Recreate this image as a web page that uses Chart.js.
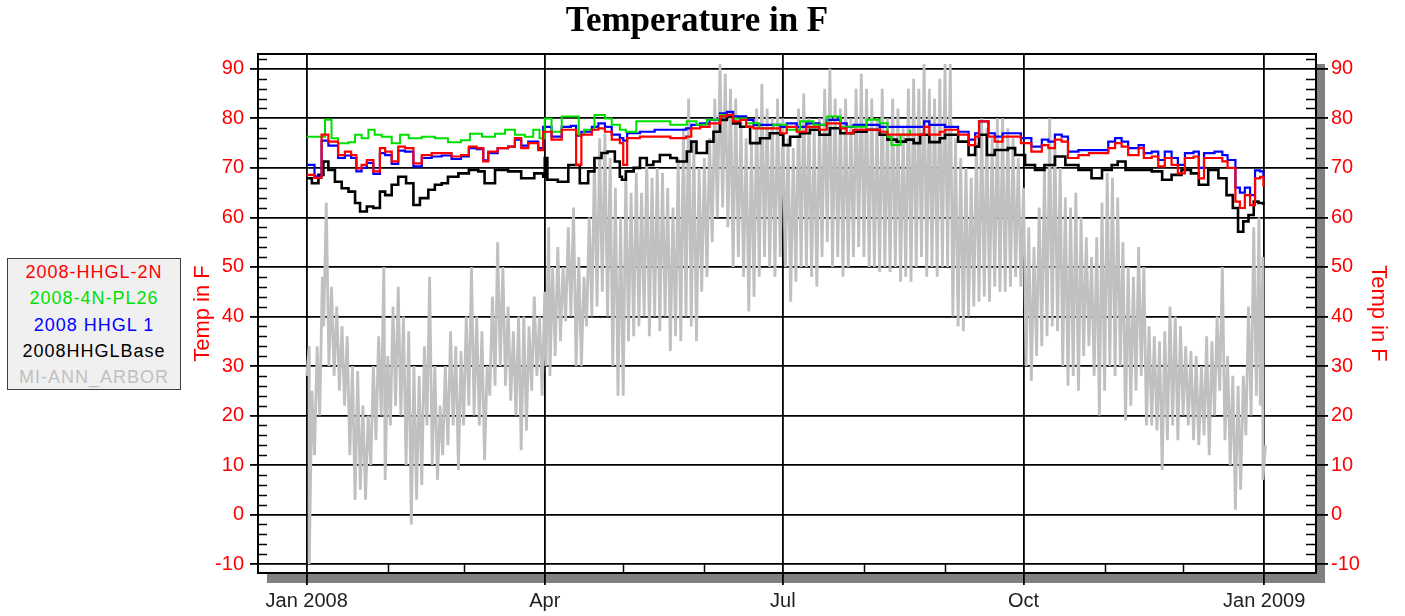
<!DOCTYPE html>
<html>
<head>
<meta charset="utf-8">
<script src="https://cdn.jsdelivr.net/npm/chart.js@4.4.1/dist/chart.umd.min.js"></script>
<style>
  html, body { margin: 0; padding: 0; background: #fff; }
  #wrap { position: relative; width: 1405px; height: 616px; }
  #title {
    position: absolute; left: 0; width: 1394px; top: 0px; text-align: center;
    font: bold 35px "Liberation Serif", "Times New Roman", serif; color: #000;
  }
  #legend {
    position: absolute; left: 7px; top: 258px; width: 172px; height: 130px;
    background: #f0f0f0; border: 1px solid #404040;
    font: 18px "Liberation Sans", Arial, sans-serif; letter-spacing: 1px;
    text-align: center;
  }
  #legend div { height: 26.3px; line-height: 26.3px; }
</style>
</head>
<body>
<div id="wrap">
  <canvas id="chart" width="1405" height="616"></canvas>
  <div id="title">Temperature in F</div>
  <div id="legend"></div>
</div>
<script>
// days counted from Jan 1 2008
const xTickDays = [0, 91, 182, 274, 366];
const xTickLabels = ['Jan 2008', 'Apr', 'Jul', 'Oct', 'Jan 2009'];
const monthDays = [31, 60, 121, 152, 213, 244, 305, 335];
const yTicks = [-10, 0, 10, 20, 30, 40, 50, 60, 70, 80, 90];

const seriesNames = ['2008-HHGL-2N', '2008-4N-PL26', '2008 HHGL 1', '2008HHGLBase', 'MI-ANN_ARBOR'];
const seriesColors = ['#ff0000', '#00e000', '#0000ff', '#000000', '#c0c0c0'];

const redDays = [0, 3, 5.7, 8.3, 12, 14.6, 17, 19, 21, 23, 25.5, 28, 30, 32.5, 35, 37.6, 40.8, 44, 47.8, 51.6,
    55.4, 59, 62, 65, 67.5, 69.4, 73, 77, 79.6, 82, 84.7, 88.5, 90.4, 93.6, 97.5, 101, 103, 105, 109, 111.5,
    114, 116.6, 119.7, 121, 122.5, 127.4, 133, 139, 145, 147, 150.4, 154, 158, 160.6, 163, 165.7, 168, 170.8, 176, 181,
    183.5, 187.3, 191, 196, 198.8, 204, 206.4, 209, 214, 219, 222, 228, 232, 236, 238, 242, 244, 249, 253, 255.5,
    257, 260.6, 263, 266, 269.5, 273, 277, 281, 283.5, 286, 288.6, 291, 295, 299, 302.6, 306.4, 309, 311.5, 314, 318,
    320, 323, 325.5, 328, 330.6, 333, 335.7, 339, 341, 343, 347, 350, 352, 355, 356.7, 358.6, 360.6, 362.5, 364.4, 365.7];
const redVals = [68.6, 68.0, 76.7, 75.3, 72.6, 73.3, 72.6, 69.9, 70.6, 71.6, 69.3, 74, 73.3, 71.3, 74.3, 74, 70.9, 72.6, 73, 73,
    72.3, 72.6, 74.3, 74, 71.3, 73.3, 74, 74.3, 76, 74, 75, 73.6, 77.3, 75.7, 77.7, 77.7, 70.6, 76.7, 77.7, 78,
    77.3, 75.7, 75, 70.6, 76, 76.3, 76.3, 76, 76.3, 78, 78.3, 79, 80.4, 80.7, 79.4, 79.7, 78.3, 78, 78, 77,
    78.3, 77.3, 78.3, 77.7, 79, 78, 77, 77.7, 77.7, 77.3, 76.7, 76.7, 76.7, 78.3, 76.7, 77.3, 77.7, 76.7, 74.6, 76.3,
    79.4, 76.3, 75.3, 76.3, 76.3, 75, 73.3, 74.6, 74, 75.7, 75.3, 72, 72.6, 73, 73, 74, 75, 74.3, 72.6, 74,
    72, 72.3, 70.3, 72, 70.6, 68.9, 72, 72.3, 67.9, 72, 72, 71.3, 70, 63.2, 61.9, 64.5, 62.5, 67.9, 68.2, 66.2];

const blueVals = [70.6, 68.3, 75.5, 74.5, 72, 72.5, 72, 69.3, 70, 71, 68.8, 73, 72.6, 70.8, 73.5, 73.3, 70.3, 72, 72.3, 72.5,
    71.8, 72.3, 74, 73.8, 71.5, 73, 74, 74.3, 75.7, 74.5, 75.3, 74, 78.3, 76.3, 78.3, 78.5, 76.5, 77.3, 78.3, 79,
    78.3, 76.7, 76, 75.5, 77, 77.3, 77.7, 77.7, 78, 78.7, 79, 79.7, 81, 81.3, 80.4, 80.4, 79.7, 78.7, 78.7, 78.3,
    79, 78.3, 79, 78.7, 79.7, 79, 78.3, 78.7, 78.7, 78.3, 78.3, 78.3, 78.3, 79.4, 78.7, 78.7, 78.3, 77.3, 75.7, 77,
    79.4, 77, 76.3, 77, 77, 76, 74.3, 75.7, 75.3, 76.7, 76.3, 73.3, 73.6, 73.6, 73.6, 75.3, 76, 75.3, 74, 74.6,
    73, 73.3, 71.6, 73.3, 72, 70.6, 73, 73.3, 70, 73, 73.3, 72.6, 71.6, 66, 65, 66, 64.5, 69.5, 69.3, 68];

const greenDays = [0, 3, 7, 9.5, 12, 16, 18.5, 21, 23.6, 26, 28.7, 32.5, 35.7, 39, 44, 49, 54, 59, 62.4, 67,
    72, 75.8, 79.6, 83.4, 86.6, 89, 91, 93.6, 97.5, 100, 104, 106, 110, 114, 116.6, 119.7, 122, 126, 132.5, 139,
    145.3, 149, 153, 158, 163, 168, 173, 178.4, 183.5, 188.6, 193.7, 199, 204, 209, 214, 219, 222, 223.5, 227, 230.6];
const greenVals = [76.3, 76.3, 79.7, 76, 75, 75.2, 76.7, 76, 77.7, 76.7, 76.3, 75, 76.7, 76, 76.3, 76, 75.2, 75.6, 76.9, 76.3,
    76.9, 77.7, 76.7, 76.3, 77.7, 76, 80, 77.3, 80.4, 80.4, 76.7, 77.7, 80.7, 80, 78.7, 77.7, 77.3, 79.4, 79.4, 78.7,
    79.4, 78.7, 79.7, 80.7, 80, 79, 78, 78.7, 77.7, 79.4, 78.7, 80.4, 78.3, 78.3, 79.7, 79, 76.3, 74.6, 76.7, 77.7];

const blackDays = [0, 2, 4.5, 6.4, 8.3, 10.8, 13.4, 16, 18.5, 20.4, 23, 25.5, 28, 30, 32.5, 35, 38, 40.8, 43.3, 46.5,
    49, 51.6, 54, 58, 62, 65.6, 68, 72, 77, 82, 87, 90.4, 91, 92, 96, 100, 104.4, 107.6, 110, 112.7,
    115, 117.8, 119.7, 120.5, 122, 125, 127.4, 130, 132.5, 135, 139, 141.5, 145.3, 147, 149, 153, 155.5, 158, 160.6, 163,
    165.7, 169.5, 173.3, 177, 181, 182.2, 184.8, 188.6, 192.4, 196, 200, 204, 209, 214, 219, 222, 225.5, 229, 232, 234.5,
    238, 242, 244, 249, 253, 255.5, 257, 260, 263, 268, 270.8, 274.6, 278.4, 282, 286, 290, 295, 300, 304, 307.7,
    310, 313, 318, 323, 327, 330.6, 334.4, 338, 341, 344.6, 348.5, 351.6, 354, 356, 358, 360, 362, 363.8, 365.7];
const blackVals = [67.9, 66.9, 68.6, 71.3, 69.6, 67.2, 65.9, 65.2, 62.9, 61.2, 62.2, 61.9, 65.2, 64.5, 66.6, 68.2, 66.9, 62.5, 63.9, 65.6,
    66.6, 66.9, 68.2, 68.9, 69.6, 69.3, 66.9, 69.6, 69.3, 67.9, 68.9, 68.2, 72, 67.6, 67.2, 70.6, 66.9, 69.3, 72, 73,
    73.3, 71.3, 68.2, 67.6, 69.3, 70, 72, 70.6, 71.3, 72.6, 72, 71.3, 73.3, 75.3, 73, 75.3, 77.3, 79.7, 80.4, 79,
    78.3, 75, 76, 77, 76.7, 74.6, 76.3, 77, 77.7, 76.7, 78, 77, 77.3, 77.7, 76.7, 75.7, 75.3, 75.7, 75, 76.7,
    75.2, 76, 76.7, 75.3, 72.6, 74.3, 76.7, 72.6, 73.6, 74, 72.6, 70.6, 69.6, 70.6, 72.3, 70.6, 69.6, 67.9, 69.6, 70.6,
    71.3, 69.6, 69.6, 69.3, 67.6, 68.6, 69.6, 68.9, 66.6, 69.6, 67.9, 64.5, 61.9, 57.1, 59.2, 60.5, 63.2, 62.9, 62.5];

// Ann Arbor air temperature: daily low / high spread
const grayDays = [0, 1, 3, 5, 6.5, 8.5, 10.5, 12.5, 14.5, 16.5, 18.5, 20.5, 22.5, 24.5, 26.5, 28.5, 30, 32, 34, 36,
    38, 40, 42, 44, 46, 48, 50, 52, 54, 56, 58, 60, 62, 64, 66, 68, 70, 72, 74, 76,
    78, 80, 82, 84, 86, 88, 90, 91.5, 93, 95, 97, 99, 101, 103, 105, 107, 109, 111, 113, 115,
    117, 119, 121, 123, 125, 127, 129, 131, 133, 135, 137, 139, 141, 143, 145, 147, 149, 151, 153, 155,
    157, 159, 161, 163, 165, 167, 169, 171, 173, 175, 177, 179, 181, 183, 185, 187, 189, 191, 193, 195,
    197, 199, 201, 203, 205, 207, 209, 211, 213, 215, 217, 219, 221, 223, 225, 227, 229, 231, 233, 235,
    237, 239, 241, 243, 245, 247, 249, 251, 253, 255, 257, 259, 261, 263, 265, 267, 269, 271, 273, 275,
    277, 279, 281, 283, 285, 287, 289, 291, 293, 295, 297, 299, 301, 303, 305, 307, 309, 311, 313, 315,
    317, 319, 321, 323, 325, 327, 329, 331, 333, 335, 337, 339, 341, 343, 345, 347, 349, 351, 353, 355,
    357, 359, 361, 363, 364.5, 365.5];
const grayLow = [28, -10, 12, 20, 38, 30, 28, 25, 22, 12, 3, 5, 3, 10, 15, 20, 7, 18, 22, 20,
    10, -2, 3, 6, 18, 10, 7, 12, 14, 18, 9, 18, 22, 20, 18, 11, 24, 26, 30, 26,
    23, 20, 13, 17, 25, 28, 24, 30, 28, 32, 35, 39, 40, 30, 30, 38, 40, 42, 45, 40,
    30, 24, 24, 35, 36, 38, 40, 36, 40, 37, 40, 33, 36, 35, 40, 38, 35, 45, 48, 55,
    60, 62, 58, 50, 52, 48, 41, 44, 48, 52, 50, 48, 52, 50, 43, 47, 50, 50, 48, 46,
    52, 55, 50, 52, 48, 50, 52, 54, 52, 50, 50, 49, 50, 49, 50, 47, 48, 47, 50, 52,
    48, 50, 48, 50, 50, 40, 38, 37, 40, 42, 43, 44, 43, 46, 45, 45, 46, 48, 46, 30,
    27, 32, 34, 36, 38, 37, 30, 26, 28, 25, 32, 34, 28, 20, 25, 30, 28, 30, 19, 22,
    25, 28, 18, 18, 17, 9, 15, 18, 15, 20, 18, 15, 14, 16, 12, 20, 25, 15, 10, 1,
    5, 16, 20, 24, 22, 7];
const grayHigh = [34, 25, 34, 48, 63, 46, 42, 38, 36, 30, 29, 22, 20, 30, 36, 50, 32, 42, 46, 40,
    37, 30, 28, 34, 48, 30, 22, 30, 37, 34, 33, 40, 50, 40, 37, 30, 44, 55, 50, 42,
    37, 40, 40, 38, 44, 40, 45, 58, 50, 54, 50, 58, 62, 52, 48, 60, 72, 76, 77, 72,
    66, 60, 69, 65, 69, 65, 72, 68, 70, 69, 66, 62, 72, 78, 84, 75, 70, 72, 76, 84,
    91, 89, 86, 84, 80, 76, 75, 82, 87, 82, 80, 84, 80, 76, 74, 82, 85, 80, 78, 80,
    86, 90, 84, 82, 84, 80, 86, 89, 86, 84, 80, 86, 80, 84, 82, 78, 86, 88, 86, 91,
    86, 84, 88, 91, 91, 76, 72, 70, 68, 75, 80, 78, 76, 80, 80, 78, 76, 72, 66, 58,
    54, 62, 70, 80, 76, 70, 64, 62, 65, 60, 56, 52, 56, 63, 69, 68, 64, 55, 50, 48,
    54, 50, 38, 36, 35, 37, 42, 40, 38, 34, 33, 32, 30, 36, 35, 40, 50, 32, 28, 26,
    28, 42, 58, 60, 52, 14];

const legendEl = document.getElementById('legend');
seriesNames.forEach((name, i) => {
    const row = document.createElement('div');
    row.textContent = name;
    row.style.color = seriesColors[i];
    legendEl.appendChild(row);
});

const pts = (xs, ys) => xs.map((x, i) => ({ x, y: ys[i] }));

// low first, high a day later -> dense zigzag of near-vertical strokes
const grayPts = [];
grayDays.forEach((d, i) => {
    grayPts.push({ x: d, y: grayLow[i] });
    grayPts.push({ x: d + 1, y: grayHigh[i] });
});

const lineSet = (idx, data, order, width) => ({
    label: seriesNames[idx],
    data,
    borderColor: seriesColors[idx],
    borderWidth: width,
    pointRadius: 0,
    stepped: true,
    order,
});

// frame, shadow and minor ticks
const framePlugin = {
    id: 'frame',
    beforeDraw(chart) {
        const { ctx, chartArea: a } = chart;
        ctx.save();
        ctx.fillStyle = '#808080';
        ctx.fillRect(a.left + 9, a.top + 10, a.right - a.left, a.bottom - a.top);
        ctx.fillStyle = '#fff';
        ctx.fillRect(a.left, a.top, a.right - a.left, a.bottom - a.top);
        ctx.restore();
    },
    afterDraw(chart) {
        const { ctx, chartArea: a, scales } = chart;
        ctx.save();
        ctx.strokeStyle = '#000';
        ctx.lineWidth = 2;
        ctx.strokeRect(a.left, a.top, a.right - a.left, a.bottom - a.top);
        ctx.lineWidth = 1.5;
        ctx.beginPath();
        for (let v = -10; v <= 92; v += 2) {
            if (v % 10 === 0) continue;
            const y = Math.round(scales.y.getPixelForValue(v)) + 0.5;
            ctx.moveTo(a.left, y); ctx.lineTo(a.left + 9, y);
            ctx.moveTo(a.right, y); ctx.lineTo(a.right - 10, y);
        }
        monthDays.forEach(d => {
            const x = Math.round(scales.x.getPixelForValue(d)) + 0.5;
            ctx.moveTo(x, a.bottom); ctx.lineTo(x, a.bottom - 10);
        });
        ctx.stroke();
        ctx.restore();
    }
};

new Chart(document.getElementById('chart'), {
    type: 'line',
    data: {
        datasets: [
            lineSet(0, pts(redDays, redVals), 1, 2.2),
            lineSet(1, pts(greenDays, greenVals), 2, 2),
            lineSet(2, pts(redDays, blueVals), 3, 2.2),
            lineSet(3, pts(blackDays, blackVals), 4, 2.6),
            {
                label: seriesNames[4],
                data: grayPts,
                borderColor: seriesColors[4],
                borderWidth: 2.8,
                pointRadius: 0,
                order: 10,
            },
        ]
    },
    options: {
        responsive: false,
        animation: false,
        layout: { padding: { left: 190, right: 0, top: 54, bottom: 0 } },
        plugins: { legend: { display: false }, tooltip: { enabled: false } },
        scales: {
            x: {
                type: 'linear', min: -18.6, max: 385.8, offset: false,
                afterBuildTicks: s => { s.ticks = xTickDays.map(v => ({ value: v })); },
                afterFit: s => { s.height = 43; },
                ticks: {
                    autoSkip: false, maxRotation: 0, padding: 4, color: '#222',
                    font: { family: 'Liberation Sans, Arial', size: 20 },
                    callback: (v, i) => xTickLabels[i],
                },
                grid: { offset: false, color: '#000', lineWidth: 1.8, tickLength: 12 },
                border: { display: false },
            },
            y: {
                position: 'left', min: -11.8, max: 93,
                afterBuildTicks: s => { s.ticks = yTicks.map(v => ({ value: v })); },
                afterFit: s => { s.width = 68; },
                ticks: { color: '#ff0000', padding: 6, font: { family: 'Liberation Sans, Arial', size: 20 } },
                grid: { color: '#000', lineWidth: 1.8, tickLength: 8 },
                border: { display: false },
                title: {
                    display: true, text: 'Temp in F', color: '#ff0000',
                    font: { family: 'Liberation Sans, Arial', size: 22 }, padding: { top: 0, bottom: 0 },
                },
            },
            y2: {
                position: 'right', min: -11.8, max: 93,
                afterBuildTicks: s => { s.ticks = yTicks.map(v => ({ value: v })); },
                afterFit: s => { s.width = 89; },
                ticks: { color: '#ff0000', padding: 3, font: { family: 'Liberation Sans, Arial', size: 20 } },
                grid: { drawOnChartArea: false, color: '#000', lineWidth: 1.8, tickLength: 12 },
                border: { display: false },
                title: {
                    display: true, text: 'Temp in F', color: '#ff0000',
                    font: { family: 'Liberation Sans, Arial', size: 22 }, padding: { top: 14, bottom: 0 },
                },
            },
        },
    },
    plugins: [framePlugin],
});
</script>
</body>
</html>
